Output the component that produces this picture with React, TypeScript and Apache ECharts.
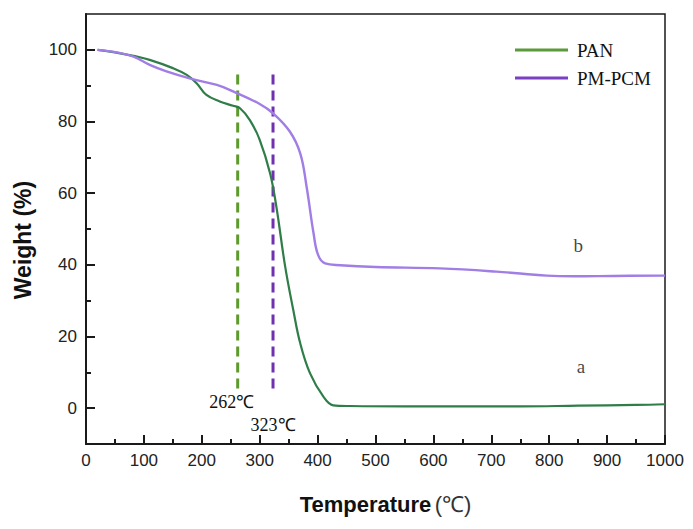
import React, { useEffect, useRef } from "react";
import * as echarts from "echarts";

// TGA curves: temperature (°C) vs. residual weight (%)
const panTemp = [20, 50, 82, 110, 150, 174, 191, 208, 231, 254, 266, 283, 300, 318, 329, 344, 358, 370, 387, 410, 427, 456, 550, 650, 750, 850, 950, 1000];
const panWeight = [100, 99.3, 98.3, 97.2, 94.9, 93.0, 90.7, 87.4, 85.6, 84.4, 83.7, 80.4, 74.9, 65.5, 56.0, 39.5, 27.4, 18.1, 9.7, 3.2, 0.8, 0.6, 0.5, 0.5, 0.5, 0.7, 0.9, 1.1];

const pmTemp = [20, 53, 82, 110, 139, 182, 226, 254, 300, 323, 352, 370, 381, 393, 401, 413, 439, 500, 611, 709, 796, 842, 911, 1000];
const pmWeight = [100, 99.3, 98.1, 95.8, 94.0, 91.9, 90.2, 88.4, 84.9, 82.3, 77.2, 71.1, 61.8, 48.8, 42.7, 40.4, 39.9, 39.4, 39.0, 38.1, 37.0, 36.8, 36.9, 37.0];

// Onset temperatures marked with dashed guides
const onsetPAN = 262;
const onsetPM = 323;
const guideRange = [5.5, 94];

// Curve tags
const tagA = { label: "a", temp: 855, weight: 11.5 };
const tagB = { label: "b", temp: 850, weight: 45.5 };

const yMajor = [0, 20, 40, 60, 80, 100];
const yMinor = [10, 30, 50, 70, 90];

const zip = (xs: number[], ys: number[]) => xs.map((x, i) => [x, ys[i]]);

export default function App() {
  const ref = useRef<HTMLDivElement>(null);

  useEffect(() => {
    if (!ref.current) return;
    const chart = echarts.init(ref.current, null, { renderer: "svg" });
    const sans = "'Liberation Sans', Arial, sans-serif";
    const serif = "'Liberation Serif', 'Times New Roman', serif";
    const ink = "#1a1a1a";

    chart.setOption({
      animation: false,
      backgroundColor: "#ffffff",
      grid: {
        left: 86,
        top: 14,
        right: 28,
        bottom: 85,
        show: true,
        borderColor: ink,
        borderWidth: 1.5,
      },
      legend: {
        orient: "vertical",
        left: 510,
        top: 35,
        itemWidth: 53,
        itemHeight: 3,
        itemGap: 8,
        textStyle: { fontFamily: serif, fontSize: 19, color: "#111", lineHeight: 20, padding: [0, 0, 0, 4] },
        data: [
          { name: "PAN", icon: "rect", itemStyle: { color: "#5b9a3a" } },
          { name: "PM-PCM", icon: "rect", itemStyle: { color: "#7a3fc2" } },
        ],
      },
      xAxis: {
        type: "value",
        min: 0,
        max: 1000,
        interval: 100,
        name: "{b|Temperature} {n|(℃)}",
        nameLocation: "middle",
        nameGap: 49,
        nameTextStyle: {
          padding: [0, 0, 0, 20],
          rich: {
            b: { fontFamily: sans, fontSize: 22, fontWeight: "bold", color: "#111" },
            n: { fontFamily: sans, fontSize: 22, color: "#333" },
          },
        },
        axisLine: { show: true, onZero: false, lineStyle: { color: ink, width: 2 } },
        axisTick: { show: true, inside: true, length: 9, lineStyle: { color: ink, width: 2 } },
        minorTick: { show: true, splitNumber: 2, length: 5, lineStyle: { color: ink, width: 2 } },
        axisLabel: {
          margin: 8,
          fontFamily: sans,
          fontSize: 17,
          color: "#222",
          formatter: (v: number) => String(v),
        },
        splitLine: { show: false },
      },
      yAxis: [
        {
          type: "value",
          min: -10,
          max: 110,
          position: "left",
          name: "Weight (%)",
          nameLocation: "middle",
          nameGap: 52,
          nameTextStyle: {
            fontFamily: sans,
            fontSize: 23,
            fontWeight: "bold",
            color: "#111",
            padding: [0, 22, 0, 0],
          },
          axisLine: { show: true, onZero: false, lineStyle: { color: ink, width: 2 } },
          axisTick: { show: true, inside: true, length: 9, customValues: yMajor, lineStyle: { color: ink, width: 2 } },
          axisLabel: { margin: 9, fontFamily: sans, fontSize: 17, color: "#222", customValues: yMajor },
          splitLine: { show: false },
        },
        {
          type: "value",
          min: -10,
          max: 110,
          position: "left",
          axisLine: { show: false, onZero: false },
          axisTick: { show: true, inside: true, length: 5, customValues: yMinor, lineStyle: { color: ink, width: 2 } },
          axisLabel: { show: false, customValues: yMinor },
          splitLine: { show: false },
        },
      ],
      series: [
        {
          name: "PAN",
          type: "line",
          data: zip(panTemp, panWeight),
          smooth: 0.4,
          symbol: "none",
          lineStyle: { color: "#2f7d48", width: 2.2 },
          itemStyle: { color: "#2f7d48" },
          z: 3,
        },
        {
          name: "PM-PCM",
          type: "line",
          data: zip(pmTemp, pmWeight),
          smooth: 0.4,
          symbol: "none",
          lineStyle: { color: "#a07ee6", width: 2.4 },
          itemStyle: { color: "#a07ee6" },
          z: 3,
        },
        {
          name: "onset-PAN",
          type: "line",
          data: [
            {
              value: [onsetPAN, guideRange[0]],
              label: {
                show: true,
                position: "bottom",
                distance: 4,
                offset: [-6, 0],
                formatter: `${onsetPAN}℃`,
                fontFamily: serif,
                fontSize: 18,
                color: "#111",
              },
            },
            [onsetPAN, guideRange[1]],
          ],
          symbol: "circle",
          symbolSize: 1,
          itemStyle: { color: "transparent" },
          lineStyle: { color: "#5b9a2c", width: 3, type: [10, 6] },
          z: 2,
        },
        {
          name: "onset-PM",
          type: "line",
          data: [
            {
              value: [onsetPM, guideRange[0]],
              label: {
                show: true,
                position: "bottom",
                distance: 4,
                offset: [0, 23],
                formatter: `${onsetPM}℃`,
                fontFamily: serif,
                fontSize: 18,
                color: "#111",
              },
            },
            [onsetPM, guideRange[1]],
          ],
          symbol: "circle",
          symbolSize: 1,
          itemStyle: { color: "transparent" },
          lineStyle: { color: "#7030b0", width: 3, type: [10, 6] },
          z: 2,
        },
        {
          name: "tags",
          type: "scatter",
          symbolSize: 1,
          itemStyle: { color: "transparent" },
          data: [tagA, tagB].map((t) => ({
            value: [t.temp, t.weight],
            label: {
              show: true,
              position: "inside",
              formatter: t.label,
              fontFamily: serif,
              fontSize: 19,
              color: "#111",
            },
          })),
        },
      ],
    });

    return () => chart.dispose();
  }, []);

  return (
    <div
      ref={ref}
      style={{ position: "fixed", left: 0, top: 0, width: 693, height: 529, background: "#fff" }}
    />
  );
}
